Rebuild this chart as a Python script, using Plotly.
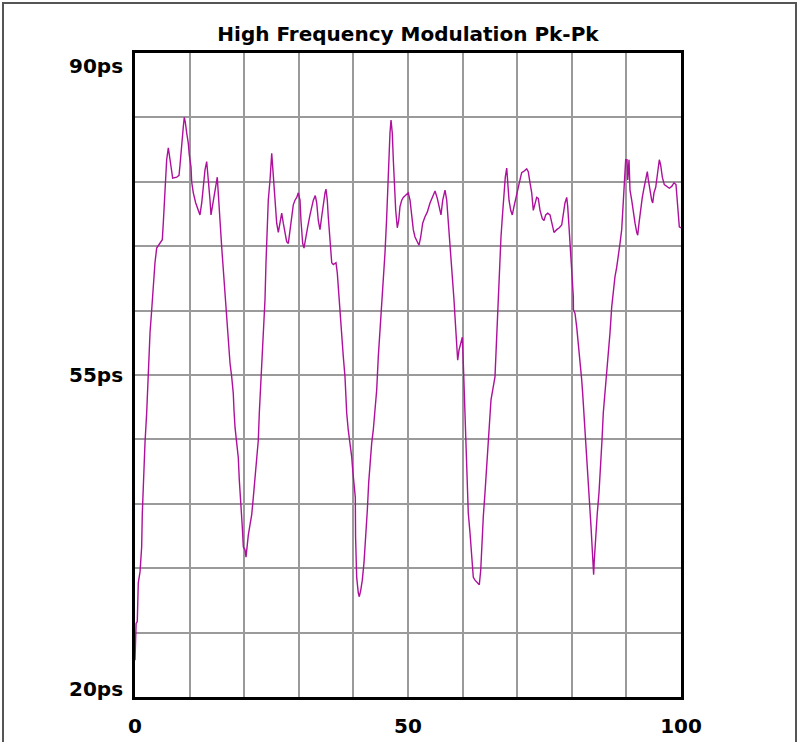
import plotly.graph_objects as go

# Data (x in sample units 0..100, y in ps)
x_vals = [0, 0.2, 0.42, 0.6, 0.92, 1.22, 1.34, 1.53, 1.83, 2.14, 2.32, 2.44, 2.75, 3.06, 3.35, 3.66, 3.97, 4.58, 5.0, 5.18,
          5.37, 5.62, 5.8, 6.1, 6.28, 6.54, 6.9, 7.64, 8.06, 8.24, 8.55, 8.85, 9.03, 9.21, 9.47, 9.76, 9.95, 10.26, 10.38, 10.68,
          11.12, 11.59, 11.9, 12.22, 12.51, 12.82, 13.13, 13.32, 13.55, 13.74, 13.92, 14.16, 14.47, 14.84, 15.07, 15.26, 15.57, 15.88, 16.17, 16.48,
          16.79, 17.09, 17.4, 17.71, 18.0, 18.13, 18.32, 18.63, 18.92, 19.1, 19.41, 19.65, 19.84, 20.15, 20.33, 20.46, 20.75, 21.06, 21.37, 21.67,
          21.98, 22.29, 22.58, 22.77, 23.02, 23.5, 23.81, 23.99, 24.23, 24.41, 24.73, 24.91, 25.04, 25.22, 25.46, 25.64, 25.95, 26.25, 26.56, 26.87,
          27.16, 27.47, 27.78, 28.08, 28.39, 28.7, 28.99, 29.3, 29.62, 29.91, 30.22, 30.4, 30.71, 30.95, 31.26, 31.63, 32.05, 32.36, 32.66, 33.02,
          33.28, 33.57, 33.88, 34.19, 34.49, 34.8, 34.98, 35.22, 35.4, 35.71, 36.03, 36.32, 36.81, 37.05, 37.3, 37.55, 37.86, 38.15, 38.46, 38.77,
          39.06, 39.38, 39.69, 39.87, 40.35, 40.4, 40.6, 40.9, 41.08, 41.34, 41.63, 41.94, 42.25, 42.55, 42.8, 43.04, 43.35, 43.64, 43.96, 44.27,
          44.56, 44.87, 45.18, 45.48, 45.79, 46.1, 46.39, 46.7, 46.89, 47.12, 47.31, 47.49, 47.75, 48.04, 48.3, 48.53, 48.85, 49.14, 49.45, 50.05,
          50.37, 50.68, 50.97, 51.28, 51.7, 52.01, 52.33, 52.69, 53.11, 53.53, 54.03, 54.52, 54.95, 55.37, 55.73, 56.04, 56.36, 56.78, 57.09, 57.38,
          57.69, 58.0, 58.19, 58.42, 58.61, 58.79, 58.92, 59.1, 59.34, 59.65, 59.95, 60.13, 60.31, 60.44, 60.75, 61.04, 61.36, 61.67, 61.96, 62.27,
          62.69, 63.06, 63.32, 63.55, 63.79, 64.1, 64.41, 64.71, 65.02, 65.2, 65.93, 66.24, 66.54, 66.85, 67.03, 67.28, 67.58, 67.82, 68.08, 68.26,
          68.5, 68.81, 69.1, 69.41, 69.78, 70.02, 70.27, 70.51, 70.82, 71.12, 71.74, 72.03, 72.34, 72.66, 72.95, 73.26, 73.57, 73.86, 74.18, 74.6,
          74.91, 75.22, 75.59, 76.01, 76.32, 76.74, 77.23, 77.71, 78.15, 78.44, 78.75, 79.07, 79.25, 79.49, 79.8, 79.98, 80.28, 80.3, 80.59, 80.9,
          81.19, 81.5, 81.81, 81.99, 82.23, 82.55, 82.84, 83.15, 83.33, 83.52, 83.75, 83.94, 84.0, 84.12, 84.38, 84.67, 84.98, 85.29, 85.53, 85.77,
          86.08, 86.69, 87.0, 87.31, 87.6, 87.91, 88.22, 88.52, 88.83, 89.14, 89.43, 89.62, 89.87, 90.11, 90.24, 90.48, 90.66, 90.97, 91.27, 91.58,
          91.89, 92.07, 92.31, 92.62, 92.91, 93.22, 93.54, 93.83, 94.02, 94.32, 94.63, 94.82, 95.05, 95.37, 95.66, 95.84, 96.03, 96.28, 96.58, 96.94,
          97.38, 97.86, 98.3, 98.72, 99.08, 99.32, 99.51, 99.69, 100]
y_vals = [24, 28, 28.2, 32.4, 33.6, 36.3, 40, 43.8, 47.6, 50.9, 53.7, 56.3, 59.6, 62.1, 65, 67.2, 68.8, 69.3, 69.7, 71.5,
          73.3, 76, 78.4, 79.7, 78.9, 77.8, 76.4, 76.5, 76.7, 77.8, 80.5, 82, 83, 82.5, 81.3, 80.2, 78.9, 77.6, 76, 74.8,
          73.7, 72.9, 72.4, 73.7, 75.4, 77.3, 78.2, 77.1, 75.3, 74, 72.4, 73.3, 74.8, 75.7, 76.5, 74.3, 71.8, 68.9, 66.4, 63.2,
          61.7, 59.1, 56.3, 54.8, 53, 51.2, 49.3, 47.6, 46, 43.6, 41.1, 38.5, 36.3, 36, 35.2, 36.3, 37.6, 38.7, 39.8, 41.7,
          43.8, 45.8, 47.9, 50.9, 53.7, 59.6, 63.2, 67.2, 70.4, 74, 76.2, 78, 79.1, 77.6, 75.9, 73.7, 71.5, 70.5, 71.8, 72.6,
          71.5, 70.4, 69.5, 69.3, 70.8, 72.2, 73.5, 74, 74.3, 74.8, 74, 71.8, 69.3, 68.8, 70, 71.1, 72.4, 73.3, 74, 74.5,
          73.7, 71.8, 70.8, 72.2, 73.7, 74.8, 75.2, 74, 72.2, 69.7, 67.2, 67, 67.2, 66.1, 63.9, 61.3, 59.1, 57, 54.8, 50.9,
          49, 47.6, 46.1, 44.7, 41.7, 37.4, 33, 31.3, 30.9, 31.6, 32.7, 34.6, 37.1, 40.3, 43.3, 45.4, 47.6, 49, 51.2, 53.4,
          57, 59.6, 62.8, 65.7, 68.3, 72.2, 77.6, 81.3, 82.7, 81.3, 78.4, 75.3, 72.9, 71, 71.8, 73.3, 74, 74.3, 74.5, 74.8,
          74, 72.2, 70.8, 70, 69.5, 69.1, 70, 71.5, 72.2, 72.7, 73.7, 74.3, 75, 74.2, 73.3, 72.4, 74, 75.1, 74, 71.8,
          69.7, 67.2, 65.3, 63.2, 61.3, 59.6, 57.7, 56.6, 57.7, 58.5, 59.1, 56.3, 53, 50.1, 43.9, 40, 37.8, 35.6, 33, 32.7,
          32.4, 32.2, 33.8, 37.1, 39.6, 42.2, 45, 47.9, 50.1, 52.3, 54.8, 59.6, 63.5, 67.2, 70, 72.2, 75.1, 76.5, 77.5, 75.9,
          74, 72.9, 72.4, 73.3, 74.2, 74.8, 75.3, 76.2, 77, 77.1, 77.4, 77.1, 75.9, 74.8, 72.9, 73.7, 74.3, 74.2, 72.9, 72,
          71.8, 72.4, 72.6, 72.4, 71.5, 70.5, 70.8, 71, 71.3, 72.6, 73.7, 74.3, 73.3, 71.1, 68.3, 65.7, 63.5, 62.1, 61.7, 60.2,
          58.5, 56.3, 54.5, 53, 50.9, 47.6, 45, 42.8, 41.1, 38.5, 36, 34.1, 33.3, 34.9, 37.8, 40, 42.2, 45, 47.9, 50.9,
          53, 56.6, 59.6, 62.4, 64.2, 65.7, 66.7, 67.8, 69.3, 70.8, 73.7, 75.9, 78.4, 78.4, 76.2, 78.4, 75.1, 74, 72.6, 71.5,
          70.5, 70.2, 71.5, 73.3, 74.3, 75.3, 76.5, 77.1, 76.2, 74.9, 74, 73.7, 74.8, 75.4, 76.5, 77.6, 78.4, 77.8, 76.5, 75.7,
          75.5, 75.3, 75.5, 75.9, 75.7, 74, 72.9, 71.1, 71]

title_text = "High Frequency Modulation Pk-Pk"
x_tick_vals = [0, 50, 100]
x_tick_text = ["0", "50", "100"]
y_label_vals = [90, 55, 20]
y_label_text = ["90ps", "55ps", "20ps"]

FONT = "DejaVu Sans"

fig = go.Figure()
fig.add_trace(go.Scatter(x=x_vals, y=y_vals, mode="lines",
                         line=dict(color="#AD109C", width=1.4), hoverinfo="skip"))

fig.update_layout(
    width=798, height=742,
    margin=dict(l=135, r=117, t=53, b=45, autoexpand=False),
    paper_bgcolor="white", plot_bgcolor="white",
    showlegend=False,
    title=dict(text=title_text, x=408 / 798, xanchor="center", y=1 - 34 / 742, yanchor="middle",
               font=dict(family=FONT, size=20, color="black", weight="bold")),
)
fig.update_xaxes(range=[0, 100], tickvals=x_tick_vals, ticktext=x_tick_text,
                 showgrid=True, gridcolor="#9A9A9A", gridwidth=1.5,
                 minor=dict(dtick=10, tick0=0, showgrid=True, gridcolor="#9A9A9A", gridwidth=1.5),
                 showline=True, linecolor="black", linewidth=3, mirror=True,
                 ticks="outside", ticklen=9, tickcolor="rgba(0,0,0,0)",
                 tickfont=dict(family=FONT, size=20, color="black", weight="bold"),
                 automargin=False, zeroline=False, fixedrange=True)
fig.update_yaxes(range=[20, 90], tickvals=[], showticklabels=False,
                 showgrid=False,
                 minor=dict(dtick=7, tick0=20, showgrid=True, gridcolor="#9A9A9A", gridwidth=1.5),
                 showline=True, linecolor="black", linewidth=3, mirror=True,
                 automargin=False, zeroline=False, fixedrange=True)

anchors = ["top", "middle", "bottom"]
shifts = [1, 0, -6]
for v, t, a, s in zip(y_label_vals, y_label_text, anchors, shifts):
    fig.add_annotation(x=0, xref="paper", y=v, yref="y", text=t, showarrow=False,
                       xanchor="right", yanchor=a, xshift=-10, yshift=s,
                       font=dict(family=FONT, size=20, color="black", weight="bold"))

# outer frame of the image
fig.add_shape(type="rect", xref="paper", yref="paper",
              x0=(3 - 135) / 546, x1=(796 - 135) / 546,
              y0=(697 - 745) / 644, y1=(697 - 3) / 644,
              line=dict(color="#555555", width=2), layer="below")

fig.write_html("out.html")
